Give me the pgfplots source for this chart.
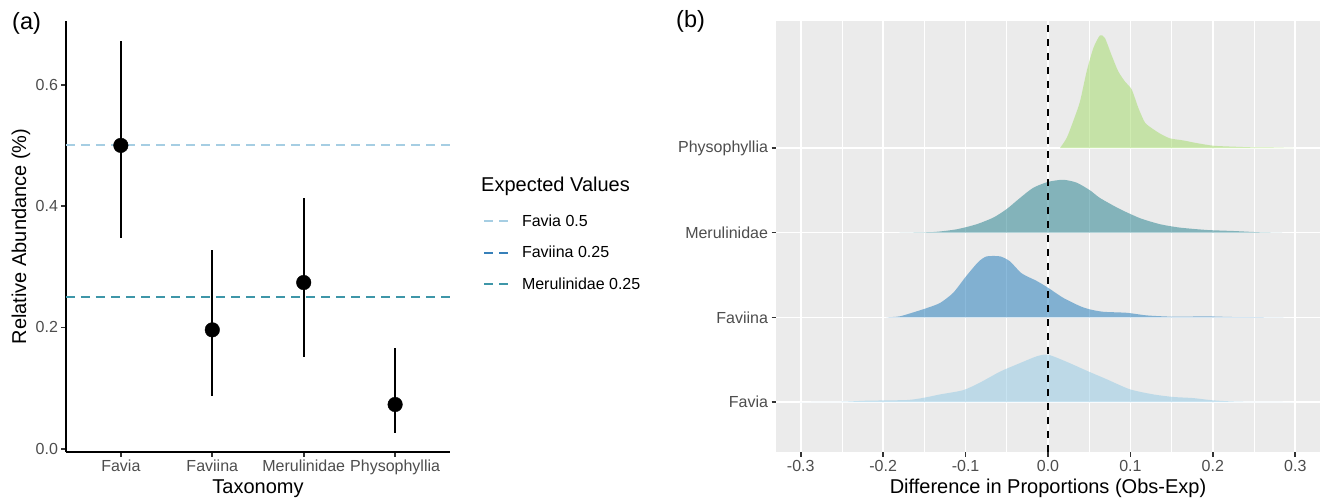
\documentclass[border=0pt]{standalone}
\usepackage{pgfplots}
\pgfplotsset{compat=1.18}
\usepackage{pgfplotstable}
\usepackage{fontspec}
\setmainfont{Liberation Sans}

\definecolor{panelbg}{RGB}{235,235,235}
\definecolor{ticktext}{RGB}{77,77,77}
\definecolor{tickline}{RGB}{51,51,51}
% reference lines (expected values)
\definecolor{faviaL}{RGB}{166,206,227}
\definecolor{faviinaL}{RGB}{55,128,185}
\definecolor{meruL}{RGB}{62,150,168}
% ridge fills (drawn at 50% opacity)
\definecolor{faviaF}{RGB}{145,201,229}
\definecolor{faviinaF}{RGB}{25,118,185}
\definecolor{meruF}{RGB}{29,125,139}
\definecolor{physoF}{RGB}{161,219,101}

\newcommand\tickfont{\fontsize{16}{19}\selectfont}
\newcommand\titlefont{\fontsize{20}{24}\selectfont}

% observed relative abundance with interval
\pgfplotstableread{
x  y      ep     em
1  0.500  0.172  0.152
2  0.196  0.132  0.109
3  0.274  0.140  0.122
4  0.073  0.093  0.047
}\abund

% density ridges: x, height above baseline
\pgfplotstableread{
x       h
-0.301  0
-0.252  0.003
-0.220  0.016
-0.171  0.024
-0.151  0.050
-0.131  0.090
-0.103  0.140
-0.0825 0.230
-0.058  0.360
-0.034  0.460
-0.0137 0.540
0.000   0.560
0.0227  0.475
0.047   0.370
0.071   0.270
0.0995  0.150
0.128   0.090
0.152   0.060
0.176   0.047
0.2006  0.020
0.233   0.004
0.298   0
}\favia

\pgfplotstableread{
x       h
-0.196  0
-0.180  0.012
-0.163  0.060
-0.147  0.110
-0.131  0.170
-0.115  0.290
-0.099  0.490
-0.0845 0.655
-0.0744 0.720
-0.058  0.720
-0.046  0.660
-0.032  0.520
-0.0137 0.430
0.000   0.350
0.0186  0.230
0.0388  0.133
0.051   0.094
0.067   0.066
0.0955  0.054
0.120   0.023
0.152   0.008
0.193   0.012
0.225   0.004
0.2856  0
}\faviina

\pgfplotstableread{
x       h
-0.180  0
-0.139  0.008
-0.111  0.040
-0.0865 0.100
-0.066  0.180
-0.050  0.280
-0.034  0.410
-0.018  0.530
0.000   0.600
0.0186  0.625
0.035   0.590
0.051   0.500
0.063   0.410
0.087   0.280
0.112   0.170
0.136   0.100
0.160   0.060
0.193   0.032
0.225   0.020
0.257   0.005
0.284   0
}\meru

\pgfplotstableread{
x       h
0.0146  0
0.0227  0.120
0.0307  0.320
0.0388  0.550
0.047   0.910
0.055   1.180
0.063   1.330
0.069   1.300
0.077   1.100
0.085   0.910
0.093   0.790
0.1016  0.690
0.1096  0.475
0.1177  0.300
0.128   0.220
0.136   0.170
0.148   0.114
0.164   0.090
0.180   0.059
0.2006  0.027
0.225   0.016
0.249   0.008
0.265   0.008
0.298   0
}\physo

\begin{document}
\begin{tikzpicture}
\path[use as bounding box] (0,0) rectangle (1328pt,501pt);

\node[anchor=west, font=\fontsize{23.5}{28}\selectfont, inner sep=0pt] at (12pt,478pt) {(a)};
\node[anchor=west, font=\fontsize{23.5}{28}\selectfont, inner sep=0pt] at (676pt,480pt) {(b)};
\node[anchor=west, font=\titlefont, inner sep=0pt] at (481pt,315pt) {Expected Values};

% ---------- (a) observed abundance ----------
\begin{axis}[
  at={(66pt,49pt)}, anchor=south west,
  scale only axis, width=384pt, height=431pt,
  xmin=0.4, xmax=4.6, ymin=-0.0053, ymax=0.705,
  axis x line*=bottom, axis y line*=left,
  axis line style={-, line width=2pt, black},
  xtick={1,2,3,4}, xticklabels={Favia,Faviina,Merulinidae,Physophyllia},
  ytick={0,0.2,0.4,0.6}, yticklabels={0.0,0.2,0.4,0.6},
  tick align=outside, major tick length=4.5pt,
  tick style={line width=1.6pt, tickline},
  tick label style={font=\tickfont, text=ticktext},
  xlabel={Taxonomy}, ylabel={Relative Abundance (\%)},
  label style={font=\titlefont},
  xlabel style={at={(axis description cs:0.5,-0.0858)}, anchor=center},
  ylabel style={at={(axis description cs:-0.117,0.5)}, anchor=center},
  legend style={draw=none, fill=none, at={(axis description cs:1.086,0.556)},
    anchor=north west, font=\tickfont, row sep=14.5pt, inner sep=0pt},
  legend cell align=left,
  legend image code/.code={\draw[#1, dash pattern=on 9pt off 6pt] (0pt,0pt) -- (24pt,0pt); \path (35pt,0pt);},
]
\addplot[faviaL, line width=1.8pt, dash pattern=on 9pt off 6pt] coordinates {(0.4,0.5) (4.6,0.5)};
\addlegendentry{Favia 0.5}
\addplot[faviinaL, line width=1.8pt, dash pattern=on 9pt off 6pt] coordinates {(0.4,0.25) (4.6,0.25)};
\addlegendentry{Faviina 0.25}
\addplot[meruL, line width=1.8pt, dash pattern=on 9pt off 6pt] coordinates {(0.4,0.25) (4.6,0.25)};
\addlegendentry{Merulinidae 0.25}
\addplot[forget plot, only marks, mark=*, mark size=7.3pt, black,
  error bars/.cd, y dir=both, y explicit, error mark=none,
  error bar style={line width=2pt, black}]
  table[x=x, y=y, y error plus=ep, y error minus=em] {\abund};
\end{axis}

% ---------- (b) difference distributions ----------
\begin{axis}[
  at={(776pt,49pt)}, anchor=south west,
  scale only axis, width=544pt, height=431pt,
  xmin=-0.33, xmax=0.33, ymin=0.41, ymax=5.5,
  axis background/.style={fill=panelbg},
  axis line style={draw=none},
  xtick={-0.3,-0.2,-0.1,0,0.1,0.2,0.3},
  xticklabels={-0.3,-0.2,-0.1,0.0,0.1,0.2,0.3},
  minor xtick={-0.25,-0.15,-0.05,0.05,0.15,0.25},
  ytick={1,2,3,4}, yticklabels={Favia,Faviina,Merulinidae,Physophyllia},
  xmajorgrids, ymajorgrids, xminorgrids,
  major grid style={white, line width=1.6pt},
  minor grid style={white, line width=0.8pt},
  minor tick length=0pt,
  xtick pos=bottom, ytick pos=left,
  tick align=outside, major tick length=4.5pt,
  tick style={line width=1.6pt, tickline},
  tick label style={font=\tickfont, text=ticktext},
  xlabel={Difference in Proportions (Obs-Exp)},
  label style={font=\titlefont},
  xlabel style={at={(axis description cs:0.5,-0.0835)}, anchor=center},
]
\addplot[draw=none, fill=physoF, fill opacity=0.5, smooth, tension=0.4] table[x=x, y expr=\thisrow{h}+4] {\physo} -- cycle;
\addplot[draw=none, fill=meruF, fill opacity=0.5, smooth, tension=0.4] table[x=x, y expr=\thisrow{h}+3] {\meru} -- cycle;
\addplot[draw=none, fill=faviinaF, fill opacity=0.5, smooth, tension=0.4] table[x=x, y expr=\thisrow{h}+2] {\faviina} -- cycle;
\addplot[draw=none, fill=faviaF, fill opacity=0.5, smooth, tension=0.4] table[x=x, y expr=\thisrow{h}+1] {\favia} -- cycle;
\addplot[black, line width=2pt, dash pattern=on 7pt off 7pt] coordinates {(0,0.41) (0,5.5)};
\end{axis}
\end{tikzpicture}
\end{document}
